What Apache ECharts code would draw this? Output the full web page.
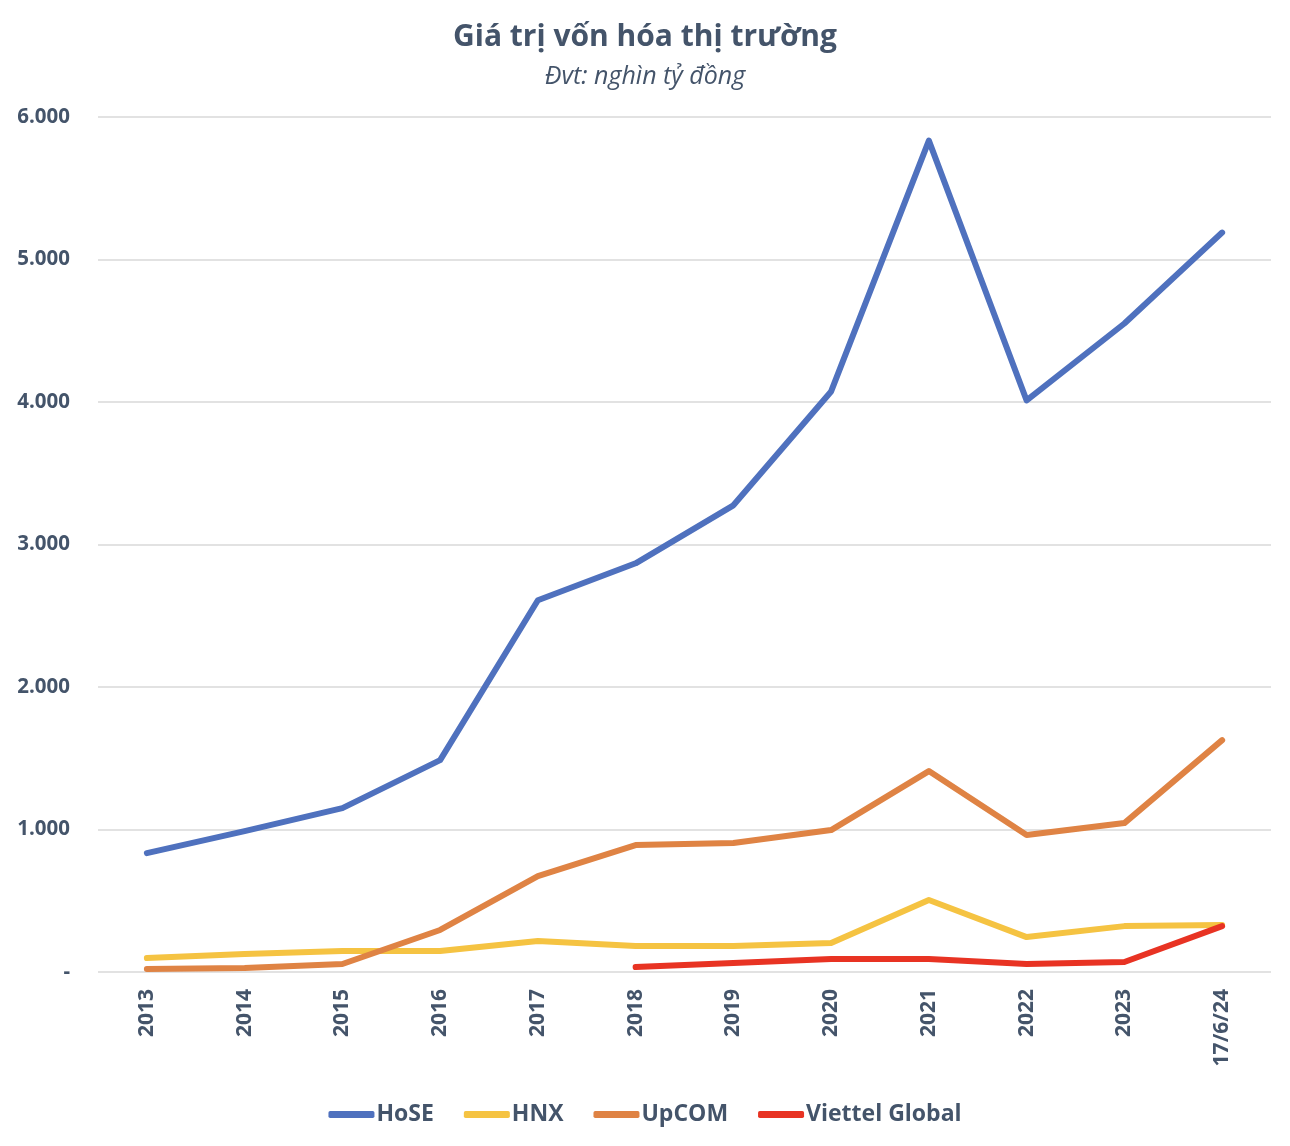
<!DOCTYPE html>
<html>
<head>
<meta charset="utf-8">
<script src="https://cdn.jsdelivr.net/npm/echarts@6/dist/echarts.min.js"></script>
<style>html,body{margin:0;padding:0;background:#fff;}#c{width:1290px;height:1146px;}</style>
</head>
<body>
<div id="c"></div>
<script>
const categories = ['2013','2014','2015','2016','2017','2018','2019','2020','2021','2022','2023','17/6/24'];
const hose = [834, 989, 1150, 1487, 2609, 2868, 3275, 4074, 5834, 4011, 4551, 5189];
const hnx = [98, 126, 147, 147, 217, 182, 182, 203, 505, 245, 322, 330];
const upcom = [21, 28, 56, 295, 673, 891, 905, 996, 1410, 961, 1045, 1627];
const viettel = [null, null, null, null, null, 35, 63, 91, 91, 56, 70, 322];
const yTicks = [0, 1000, 2000, 3000, 4000, 5000, 6000];

const textColor = '#44546A';
const font = "'Open Sans', 'Noto Sans', sans-serif";
const chart = echarts.init(document.getElementById('c'));
function fmt(v){ if(v===0) return '-'; return String(v).replace(/\B(?=(\d{3})+(?!\d))/g,'.'); }
function mk(name, data, color){
  return {name, type:'line', data, symbol:'none', connectNulls:false,
    lineStyle:{width:6, color, cap:'round', join:'round'}, itemStyle:{color}};
}
chart.setOption({
  animation:false,
  title:{text:'Giá trị vốn hóa thị trường', subtext:'Đvt: nghìn tỷ đồng', left:'center', top:17,
    itemGap:12,
    textStyle:{fontFamily:font, fontWeight:'bold', fontSize:30, color:textColor},
    subtextStyle:{fontFamily:font, fontStyle:'italic', fontSize:25, color:textColor}},
  grid:{left:98, right:19, top:117, bottom:174, containLabel:false},
  legend:{bottom:15, left:'center', itemWidth:46, itemHeight:7, itemGap:30,
    icon:'roundRect',
    textStyle:{fontFamily:font, fontWeight:'bold', fontSize:23, color:textColor, padding:[0,0,0,-3]},
    data:['HoSE','HNX','UpCOM','Viettel Global']},
  xAxis:{type:'category', data:categories, boundaryGap:true,
    axisLine:{show:false}, axisTick:{show:false},
    axisLabel:{rotate:90, margin:17, fontFamily:font, fontWeight:'bold', fontSize:21, color:textColor}},
  yAxis:{type:'value', min:yTicks[0], max:yTicks[yTicks.length-1], interval:1000,
    axisLine:{show:false}, axisTick:{show:false},
    splitLine:{lineStyle:{color:'#D9D9D9', width:1.5}},
    axisLabel:{margin:28, fontFamily:font, fontWeight:'bold', fontSize:20.5, color:textColor, formatter:fmt}},
  series:[
    mk('HoSE', hose, '#4F71BE'),
    mk('HNX', hnx, '#F5C342'),
    mk('UpCOM', upcom, '#DF8344'),
    mk('Viettel Global', viettel, '#E83323')
  ]
});
</script>
</body>
</html>
